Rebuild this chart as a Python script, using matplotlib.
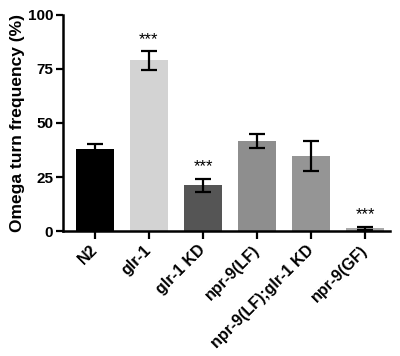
import matplotlib.pyplot as plt
import numpy as np

plt.rcParams['font.family'] = 'Liberation Sans'
plt.rcParams['font.weight'] = 'bold'

# data
strains = ['N2', 'glr-1', 'glr-1 KD', 'npr-9(LF)', 'npr-9(LF);glr-1 KD', 'npr-9(GF)']
means = [38.0, 79.0, 21.2, 41.8, 34.8, 1.2]
sem = [2.4, 4.3, 3.0, 3.3, 7.0, 0.7]
signif = ['', '***', '***', '', '', '***']
colors = ['#000000', '#d3d3d3', '#555555', '#8e8e8e', '#959595', '#aaaaaa']

fig = plt.figure(figsize=(4.0, 3.56), dpi=100)
ax = fig.add_axes([0.1575, 0.351, 0.8175, 0.607])

x = np.arange(len(strains))
ax.bar(x, means, width=0.7, color=colors, zorder=2)
ax.errorbar(x, means, yerr=sem, fmt='none', ecolor='black', elinewidth=1.6,
            capsize=6, capthick=1.6, zorder=3)

for i in range(len(strains)):
    if signif[i]:
        ax.text(x[i], means[i] + sem[i] + 2.0, signif[i], ha='center', va='bottom',
                fontsize=12, fontweight='normal')

ax.set_xlim(-0.59, 5.46)
ax.set_ylim(0, 100)
ax.set_yticks([0, 25, 50, 75, 100])
ax.set_xticks(x)
ax.set_xticklabels(strains, rotation=45, ha='right', va='center',
                   rotation_mode='anchor', fontsize=11.5)
ax.tick_params(axis='y', labelsize=11, width=1.6, length=5, pad=2)
ax.tick_params(axis='x', width=1.6, length=6, pad=6)
ax.set_ylabel('Omega turn frequency (%)', fontsize=12.5, fontweight='bold', labelpad=2)

ax.spines['top'].set_visible(False)
ax.spines['right'].set_visible(False)
ax.spines['left'].set_linewidth(1.8)
ax.spines['bottom'].set_linewidth(1.8)

plt.savefig('out.png', dpi=100)
